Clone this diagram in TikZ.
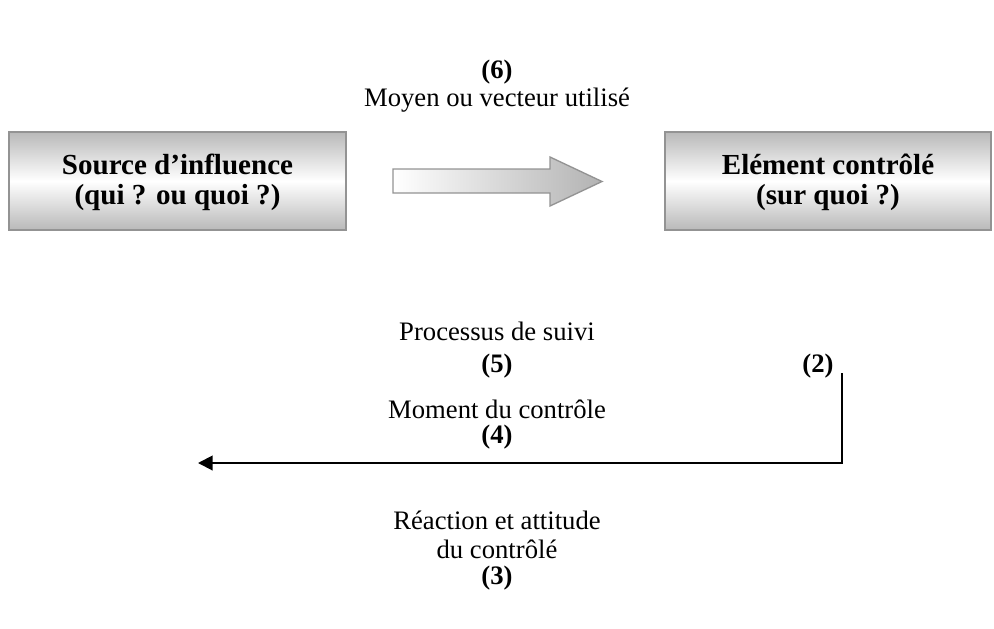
\documentclass[tikz,border=0pt]{standalone}
\usepackage{fontspec}
\setmainfont{Liberation Serif}
\usetikzlibrary{arrows.meta}
\begin{document}
\begin{tikzpicture}[x=0.75pt,y=-0.75pt,
  lbl/.style={font=\fontsize{20}{21.5}\selectfont, align=center, inner sep=0pt},
  bl/.style={font=\fontsize{20}{21.5}\selectfont\bfseries, align=center, inner sep=0pt},
  boxtxt/.style={font=\fontsize{21.8}{22.5}\selectfont\bfseries, align=center, inner sep=0pt},
  gbox/.style={draw=gray!85, line width=1pt, top color=gray!55, bottom color=gray!55, middle color=white},
  conn/.style={line width=1.5pt, -{Triangle[length=11pt,width=11pt]}}]
\useasboundingbox (0,0) rectangle (994,628);
% top labels
\node[bl] (n6) at (497,72) {(6)};
\node[lbl] (moyen) at (497,100) {Moyen ou vecteur utilisé};
% boxes
\path[gbox] (9,132) rectangle (346,230);
\node[boxtxt] (source) at (177.5,182) {Source d’influence\\(qui ? ou quoi ?)};
\path[gbox] (665,132) rectangle (991,230);
\node[boxtxt] (element) at (828,182) {Elément contrôlé\\(sur quoi ?)};
% block arrow
\path[draw=gray!85, line width=1pt, left color=white, right color=gray!60]
  (393,169) -- (550,169) -- (550,157) -- (602,181.5) -- (550,206) -- (550,193) -- (393,193) -- cycle;
% middle labels
\node[lbl] (proc) at (497,331) {Processus de suivi};
\node[bl] (n5) at (497,366) {(5)};
\node[bl] (n2) at (818,366) {(2)};
\node[lbl] (moment) at (497,409) {Moment du contrôle};
\node[bl] (n4) at (497,437) {(4)};
\node[lbl] (reac) at (497,535) {Réaction et attitude\\du contrôlé};
\node[bl] (n3) at (497,578) {(3)};
% connector
\coordinate (ctop) at (842,373);
\coordinate (ccorner) at (842,463);
\coordinate (cend) at (198,463);
\draw[conn] (ctop) -- (ccorner) -- (cend);
\end{tikzpicture}
\end{document}
